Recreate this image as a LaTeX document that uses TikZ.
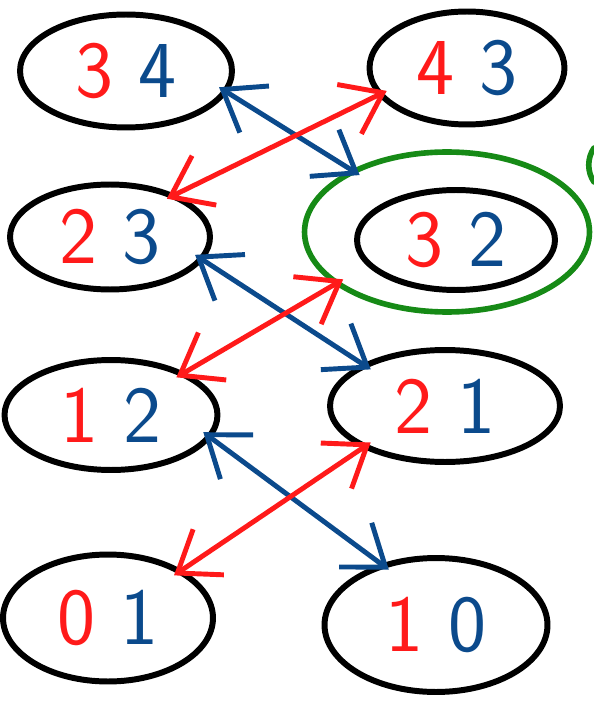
\documentclass[tikz,border=0pt]{standalone}
\usepackage{tikz}
\usetikzlibrary{arrows.meta, shapes.geometric, positioning}
\definecolor{hdRed}{HTML}{FF1A1A}
\definecolor{hdBlue}{HTML}{0B4A8C}
\definecolor{hdGreen}{HTML}{168A16}
\tikzset{
  pairnode/.style  = {ellipse, draw=black, line width=3.4pt, inner sep=0pt,
                      font=\fontsize{46}{46}\selectfont\sffamily},
  ringnode/.style  = {ellipse, draw=hdGreen, line width=3.2pt, inner sep=0pt},
  swapblue/.style  = {{Straight Barb[length=7.5mm,width=11mm]}-{Straight Barb[length=7.5mm,width=11mm]},
                      hdBlue, line width=2.8pt, line cap=round,
                      shorten <=-2mm, shorten >=-2mm},
  swapred/.style   = {{Straight Barb[length=7.5mm,width=11mm]}-{Straight Barb[length=7.5mm,width=11mm]},
                      hdRed, line width=2.8pt, line cap=round,
                      shorten <=-2mm, shorten >=-2mm},
}
\newcommand{\pr}[2]{\textcolor{hdRed}{#1}\hspace{0.5cm}\textcolor{hdBlue}{#2}}

\begin{document}
\begin{tikzpicture}[x=0.02cm, y=-0.02cm]
  \useasboundingbox (0,0) rectangle (594,702);
  % left column
  \node[pairnode, minimum width=4.24cm, minimum height=2.26cm] (n34) at (126,71)  {\pr{3}{4}};
  \node[pairnode, minimum width=4.0cm,  minimum height=2.1cm]  (n23) at (110,237) {\pr{2}{3}};
  \node[pairnode, minimum width=4.26cm, minimum height=2.2cm]  (n12) at (111,415) {\pr{1}{2}};
  \node[pairnode, minimum width=4.2cm,  minimum height=2.54cm] (n01) at (108,618) {\pr{0}{1}};
  % right column
  \node[pairnode, minimum width=3.9cm,  minimum height=2.26cm] (n43) at (467,68)  {\pr{4}{3}};
  \node[pairnode, minimum width=3.96cm, minimum height=2.0cm]  (n32) at (456,240) {\pr{3}{2}};
  \node[pairnode, minimum width=4.6cm,  minimum height=2.24cm] (n21) at (445,406) {\pr{2}{1}};
  \node[pairnode, minimum width=4.46cm, minimum height=2.68cm] (n10) at (436,625) {\pr{1}{0}};
  % marked state
  \node[ringnode, minimum width=5.7cm, minimum height=3.2cm] (g32) at (447,232) {};
  \draw[hdGreen, line width=3.2pt, line cap=round] (594,148) .. controls (587,158) and (587,172) .. (594,182);
  % swaps
  \draw[swapblue] (n34.-12)  -- (g32.147);
  \draw[swapred]  (n23.33)   -- (n43.197);
  \draw[swapblue] (n23.-14)  -- (n21.153);
  \draw[swapred]  (n12.30)   -- (g32.205);
  \draw[swapblue] (n12.-13)  -- (n10.132);
  \draw[swapred]  (n01.33)   -- (n21.207);
\end{tikzpicture}
\end{document}
